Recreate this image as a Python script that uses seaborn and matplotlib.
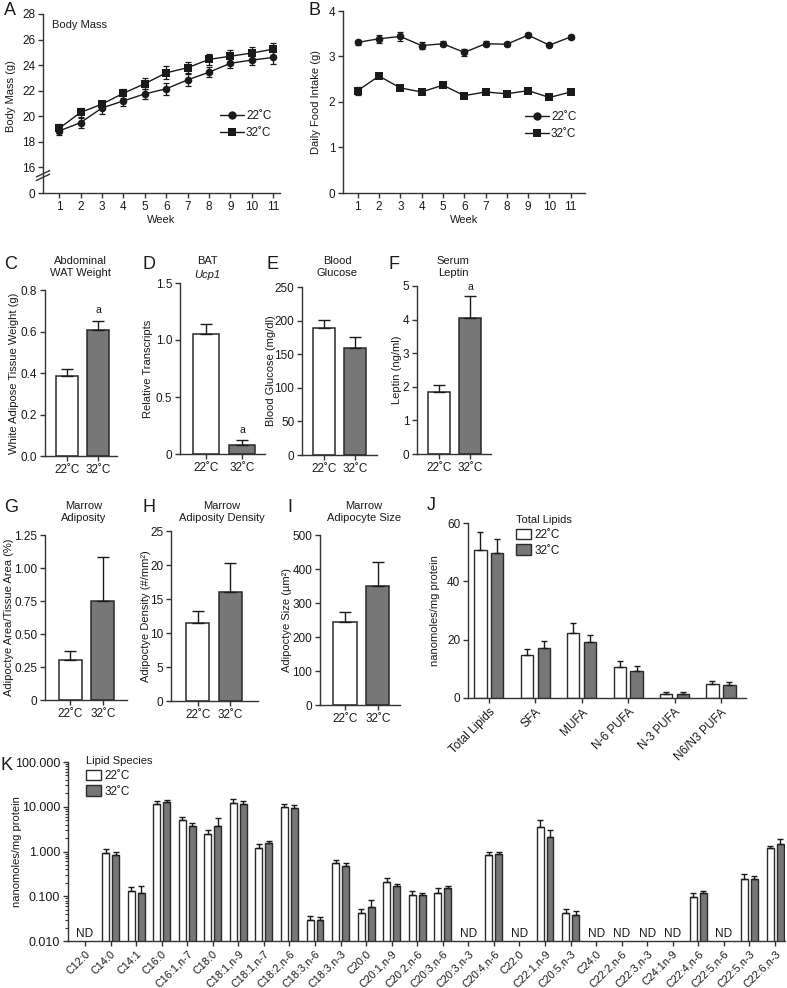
import matplotlib

matplotlib.use("Agg")

import matplotlib.pyplot as plt
import numpy as np
import pandas as pd
import seaborn as sns
from matplotlib.lines import Line2D
from matplotlib.patches import Patch

# ---- data ----
weeks = list(range(1, 12))
mass_22 = [18.85, 19.5, 20.65, 21.2, 21.75, 22.15, 22.85, 23.45, 24.15, 24.4, 24.6]
mass_22_sem = [0.35, 0.4, 0.45, 0.4, 0.4, 0.45, 0.45, 0.4, 0.4, 0.35, 0.5]
mass_32 = [19.05, 20.3, 20.95, 21.8, 22.55, 23.4, 23.8, 24.45, 24.7, 24.95, 25.25]
mass_32_sem = [0.35, 0.35, 0.25, 0.35, 0.45, 0.5, 0.45, 0.45, 0.45, 0.45, 0.5]

food_22 = [3.31, 3.39, 3.44, 3.24, 3.28, 3.09, 3.28, 3.27, 3.47, 3.25, 3.43]
food_22_sem = [0.05, 0.09, 0.09, 0.08, 0.05, 0.07, 0.05, 0.05, 0.04, 0.03, 0.04]
food_32 = [2.25, 2.57, 2.31, 2.22, 2.37, 2.14, 2.22, 2.18, 2.25, 2.10, 2.22]
food_32_sem = [0.09, 0.03, 0.04, 0.03, 0.05, 0.04, 0.03, 0.03, 0.03, 0.03, 0.04]

groups = ["22˚C", "32˚C"]
wat = [0.385, 0.605]
wat_sem = [0.035, 0.045]
ucp1 = [1.05, 0.08]
ucp1_sem = [0.09, 0.045]
glucose = [189, 159]
glucose_sem = [12, 16]
leptin = [1.86, 4.06]
leptin_sem = [0.18, 0.64]
marrow_adiposity = [0.30, 0.75]
marrow_adiposity_sem = [0.07, 0.33]
adipocyte_density = [11.4, 16.0]
adipocyte_density_sem = [1.8, 4.3]
adipocyte_size = [245, 350]
adipocyte_size_sem = [28, 70]

lipid_classes = ["Total Lipids", "SFA", "MUFA", "N-6 PUFA", "N-3 PUFA", "N6/N3 PUFA"]
class_22 = [50.7, 14.7, 22.3, 10.7, 1.5, 4.9]
class_22_sem = [6.2, 2.2, 3.4, 1.9, 0.6, 1.0]
class_32 = [49.8, 17.3, 19.3, 9.3, 1.4, 4.6]
class_32_sem = [4.6, 2.4, 2.4, 1.7, 0.7, 0.8]

nan = np.nan
species = ["C12:0", "C14:0", "C14:1", "C16:0", "C16:1,n-7", "C18:0", "C18:1,n-9",
           "C18:1,n-7", "C18:2,n-6", "C18:3,n-6", "C18:3,n-3", "C20:0", "C20:1,n-9",
           "C20:2,n-6", "C20:3,n-6", "C20:3,n-3", "C20:4,n-6", "C22:0", "C22:1,n-9",
           "C20:5,n-3", "C24:0", "C22:2,n-6", "C22:3,n-3", "C24:1n-9", "C22:4,n-6",
           "C22:5,n-6", "C22:5,n-3", "C22:6,n-3"]
species_22 = [nan, 0.91, 0.13, 11.3, 4.95, 2.45, 11.9, 1.18, 9.7, 0.0294, 0.54, 0.042,
              0.21, 0.105, 0.12, nan, 0.82, nan, 3.45, 0.042, nan, nan, nan, nan,
              0.094, nan, 0.24, 1.18]
species_22_sem = [nan, 0.2, 0.03, 2.3, 0.95, 0.5, 2.7, 0.26, 1.8, 0.007, 0.11, 0.011,
                  0.05, 0.025, 0.03, nan, 0.14, nan, 1.55, 0.009, nan, nan, nan, nan,
                  0.026, nan, 0.08, 0.17]
species_32 = [nan, 0.83, 0.12, 12.5, 3.7, 3.77, 11.3, 1.55, 9.2, 0.030, 0.47, 0.057,
              0.17, 0.105, 0.15, nan, 0.87, nan, 2.14, 0.038, nan, nan, nan, nan,
              0.117, nan, 0.24, 1.47]
species_32_sem = [nan, 0.17, 0.05, 2.0, 0.7, 1.83, 1.9, 0.2, 1.5, 0.004, 0.07, 0.026,
                  0.02, 0.015, 0.02, nan, 0.13, nan, 0.86, 0.008, nan, nan, nan, nan,
                  0.013, nan, 0.05, 0.4]

# ---- style ----
WHITE = "#ffffff"
GRAY = "#777777"
INK = "#1a1a1a"

sns.set_theme(style="ticks")
plt.rcParams["font.family"] = ["Liberation Sans", "DejaVu Sans"]
plt.rcParams.update({
    "font.size": 8,
    "axes.labelsize": 8,
    "xtick.labelsize": 8.5,
    "ytick.labelsize": 8.5,
    "axes.linewidth": 1.0,
    "axes.edgecolor": "#333333",
    "axes.labelcolor": INK,
    "text.color": INK,
    "xtick.color": "#333333",
    "ytick.color": "#333333",
    "xtick.labelcolor": INK,
    "ytick.labelcolor": INK,
    "xtick.major.size": 3.5,
    "ytick.major.size": 3.5,
    "xtick.major.width": 1,
    "ytick.major.width": 1,
    "xtick.major.pad": 2.5,
    "ytick.major.pad": 2,
    "legend.fontsize": 8.5,
})

W, H = 787, 988
fig = plt.figure(figsize=(W / 100, H / 100), dpi=100)


def px_axes(x0, y0, x1, y1):
    return fig.add_axes([x0 / W, 1 - y1 / H, (x1 - x0) / W, (y1 - y0) / H])


def place_ylabel(ax, text, right_px, center_px=None):
    ax.set_ylabel(text)
    bb = ax.get_position()
    yc = (bb.y0 + bb.y1) / 2 if center_px is None else 1 - center_px / H
    ax.yaxis.set_label_coords(right_px / W, yc, transform=fig.transFigure)


def panel_letter(letter, x_px, y_px):
    fig.text(x_px / W, 1 - y_px / H, letter, fontsize=13, ha="left", va="top")


def title_px(text, cx, top, **kw):
    fig.text(cx / W, 1 - top / H, text, ha="center", va="top", fontsize=8,
             linespacing=1.25, **kw)


def line_panel(ax, y22, e22, y32, e32):
    df = pd.DataFrame({
        "week": weeks * 2,
        "value": y22 + y32,
        "temp": [groups[0]] * len(weeks) + [groups[1]] * len(weeks),
    })
    sns.lineplot(data=df, x="week", y="value", hue="temp", style="temp",
                 markers={groups[0]: "o", groups[1]: "s"}, dashes=False,
                 palette=[INK, INK], markersize=5.5, linewidth=1.0,
                 markeredgewidth=0, errorbar=None, legend=False, ax=ax)
    ax.errorbar(weeks, y22, yerr=e22, fmt="none", ecolor=INK, elinewidth=0.9,
                capsize=2.5, capthick=0.9)
    ax.errorbar(weeks, y32, yerr=e32, fmt="none", ecolor=INK, elinewidth=0.9,
                capsize=2.5, capthick=0.9)
    ax.set_xticks(weeks)
    ax.set_xlabel("Week")
    ax.xaxis.labelpad = 1


def line_legend(ax, x_px, y_px):
    handles = [
        Line2D([], [], color=INK, marker="o", markersize=6, lw=1, markeredgewidth=0),
        Line2D([], [], color=INK, marker="s", markersize=6, lw=1, markeredgewidth=0),
    ]
    ax.legend(handles, groups, loc="upper left", bbox_to_anchor=(x_px / W, 1 - y_px / H),
              bbox_transform=fig.transFigure, frameon=False, handlelength=2.0,
              handletextpad=0.2, labelspacing=0.4, borderpad=0, borderaxespad=0)


def bar_panel(ax, values, sem, xlim, ylim, yticks, yticklabels, ylabel, ylabel_px):
    df = pd.DataFrame({"group": groups, "value": values})
    sns.barplot(data=df, x="group", y="value", hue="group", palette=[WHITE, GRAY],
                saturation=1, width=0.7, edgecolor="#2a2a2a", linewidth=1.1,
                errorbar=None, legend=False, ax=ax)
    xs = np.arange(len(values))
    ax.errorbar(xs, values, yerr=[np.zeros(len(sem)), sem], fmt="none", ecolor=INK,
                elinewidth=1, capsize=4, capthick=1, zorder=1)
    ax.set_xlim(*xlim)
    ax.set_ylim(*ylim)
    ax.set_yticks(yticks)
    ax.set_yticklabels(yticklabels)
    ax.set_xlabel("")
    place_ylabel(ax, ylabel, ylabel_px)
    sns.despine(ax=ax)


def mark_significant(ax, values, sem, idx, pad):
    ax.text(idx, values[idx] + sem[idx] + pad, "a", ha="center", va="bottom", fontsize=7.5)


# ---- A: body mass ----
axA = px_axes(43, 14, 280, 193)
line_panel(axA, mass_22, mass_22_sem, mass_32, mass_32_sem)
axA.set_xlim(0.25, 11.31)
axA.set_ylim(14, 28)
axA.set_yticks(range(14, 29, 2))
axA.set_yticklabels(["0"] + [str(v) for v in range(16, 29, 2)])
place_ylabel(axA, "Body Mass (g)", 16, 96)
sns.despine(ax=axA)
for dy in (0.0, 0.02):
    axA.plot([-0.028, 0.028], [0.07 + dy, 0.105 + dy], transform=axA.transAxes,
             color="#333333", lw=1, clip_on=False)
axA.text(0.04, 0.94, "Body Mass", transform=axA.transAxes, ha="left", va="center", fontsize=8)
line_legend(axA, 220, 110)

# ---- B: food intake ----
axB = px_axes(343, 11, 585, 193)
line_panel(axB, food_22, food_22_sem, food_32, food_32_sem)
axB.set_xlim(0.31, 11.67)
axB.set_ylim(0, 4)
axB.set_yticks([0, 1, 2, 3, 4])
place_ylabel(axB, "Daily Food Intake (g)", 321)
sns.despine(ax=axB)
line_legend(axB, 525, 111)

# ---- C-F ----
axC = px_axes(45, 290, 117, 456)
bar_panel(axC, wat, wat_sem, (-0.71, 1.61), (0, 0.8), [0, 0.2, 0.4, 0.6, 0.8],
          ["0.0", "0.2", "0.4", "0.6", "0.8"], "White Adipose Tissue Weight (g)", 19)
mark_significant(axC, wat, wat_sem, 1, 0.03)

axD = px_axes(180, 283, 265, 454)
bar_panel(axD, ucp1, ucp1_sem, (-0.72, 1.64), (0, 1.5), [0, 0.5, 1.0, 1.5],
          ["0", "0.5", "1.0", "1.5"], "Relative Transcripts", 153)
mark_significant(axD, ucp1, ucp1_sem, 1, 0.04)

axE = px_axes(302, 287, 377, 455)
bar_panel(axE, glucose, glucose_sem, (-0.71, 1.71), (0, 250), range(0, 251, 50),
          [str(v) for v in range(0, 251, 50)], "Blood Glucose (mg/dl)", 276)

axF = px_axes(417, 286, 491, 454)
bar_panel(axF, leptin, leptin_sem, (-0.71, 1.68), (0, 5), range(0, 6),
          [str(v) for v in range(0, 6)], "Leptin (ng/ml)", 402)
mark_significant(axF, leptin, leptin_sem, 1, 0.12)

title_px("Abdominal\nWAT Weight", 80, 256)
title_px("BAT", 207, 256)
title_px("Ucp1", 207, 270, style="italic")
title_px("Blood\nGlucose", 337, 256)
title_px("Serum\nLeptin", 453, 256)

# ---- G-I ----
axG = px_axes(45, 535, 127, 700)
bar_panel(axG, marrow_adiposity, marrow_adiposity_sem, (-0.76, 1.73), (0, 1.25),
          [0, 0.25, 0.5, 0.75, 1.0, 1.25], ["0", "0.25", "0.50", "0.75", "1.00", "1.25"],
          "Adipoctye Area/Tissue Area (%)", 14)

axH = px_axes(171, 531, 258, 701)
bar_panel(axH, adipocyte_density, adipocyte_density_sem, (-0.82, 1.85), (0, 25),
          range(0, 26, 5), [str(v) for v in range(0, 26, 5)],
          "Adipoctye Density (#/mm²)", 151)

axI = px_axes(320, 535, 400, 705)
bar_panel(axI, adipocyte_size, adipocyte_size_sem, (-0.76, 1.67), (0, 500),
          range(0, 501, 100), [str(v) for v in range(0, 501, 100)],
          "Adipoctye Size (µm²)", 292)

title_px("Marrow\nAdiposity", 84, 501)
title_px("Marrow\nAdiposity Density", 222, 501)
title_px("Marrow\nAdipocyte Size", 364, 501)


# ---- J: lipid classes ----
def grouped_bars(ax, cats, v22, e22, v32, e32, width, gap):
    df = pd.DataFrame({
        "cat": cats * 2,
        "value": list(v22) + list(v32),
        "temp": [groups[0]] * len(cats) + [groups[1]] * len(cats),
    })
    sns.barplot(data=df, x="cat", y="value", hue="temp", order=cats, hue_order=groups,
                palette=[WHITE, GRAY], saturation=1, width=width, gap=gap,
                edgecolor="#2a2a2a", linewidth=1.0, errorbar=None, legend=False, ax=ax)
    xs = np.arange(len(cats))
    for off, vals, errs in ((-width / 4, v22, e22), (width / 4, v32, e32)):
        vals = np.asarray(vals, dtype=float)
        errs = np.asarray(errs, dtype=float)
        ok = ~np.isnan(vals)
        ax.errorbar(xs[ok] + off, vals[ok], yerr=[np.zeros(ok.sum()), errs[ok]],
                    fmt="none", ecolor=INK, elinewidth=1, capsize=2.5, capthick=1,
                    zorder=1)
    ax.set_xlabel("")
    sns.despine(ax=ax)


def bar_legend(ax, title, x_px, y_px):
    handles = [Patch(facecolor=WHITE, edgecolor="#2a2a2a", lw=1),
               Patch(facecolor=GRAY, edgecolor="#2a2a2a", lw=1)]
    ax.legend(handles, groups, title=title, loc="upper left",
              bbox_to_anchor=(x_px / W, 1 - y_px / H), bbox_transform=fig.transFigure,
              frameon=False, alignment="left", handlelength=1.3, handleheight=1.0,
              handletextpad=0.25, labelspacing=0.3, borderpad=0, borderaxespad=0,
              title_fontsize=8)


axJ = px_axes(468, 523, 746, 698)
grouped_bars(axJ, lipid_classes, class_22, class_22_sem, class_32, class_32_sem, 0.73, 0.28)
axJ.set_xlim(-0.45, 5.54)
axJ.set_ylim(0, 60)
axJ.set_yticks([0, 20, 40, 60])
axJ.set_xticks(range(len(lipid_classes)))
axJ.set_xticklabels(lipid_classes, rotation=45, ha="right", rotation_mode="anchor")
place_ylabel(axJ, "nanomoles/mg protein", 440)
bar_legend(axJ, "Total Lipids", 516, 515)

# ---- K: lipid species ----
axK = px_axes(68, 762, 785, 941)
grouped_bars(axK, species, species_22, species_22_sem, species_32, species_32_sem, 0.78, 0.3)
axK.set_yscale("log")
axK.set_ylim(0.01, 100)
axK.set_xlim(-0.665, 27.39)
axK.set_yticks([0.01, 0.1, 1, 10, 100])
axK.set_yticklabels(["0.010", "0.100", "1.000", "10.000", "100.000"])
axK.tick_params(axis="y", which="major", labelsize=9)
axK.tick_params(axis="y", which="minor", length=2, width=0.8)
axK.set_xticks(range(len(species)))
axK.set_xticklabels(species, rotation=45, ha="right", rotation_mode="anchor")
axK.tick_params(axis="x", labelsize=7.8, pad=2)
for i, (a, b) in enumerate(zip(species_22, species_32)):
    if np.isnan(a) and np.isnan(b):
        axK.text(i, 0.0106, "ND", ha="center", va="bottom", fontsize=8.5)
place_ylabel(axK, "nanomoles/mg protein", 22)
bar_legend(axK, "Lipid Species", 86, 756)

# ---- panel letters ----
for letter, x, y in [("A", 4, 2), ("B", 309, 2), ("C", 4, 256), ("D", 142, 256),
                     ("E", 266, 256), ("F", 389, 256), ("G", 4, 499), ("H", 143, 499),
                     ("I", 287, 499), ("J", 427, 497), ("K", 0, 757)]:
    panel_letter(letter, x, y)

fig.savefig("out.png", dpi=100)
